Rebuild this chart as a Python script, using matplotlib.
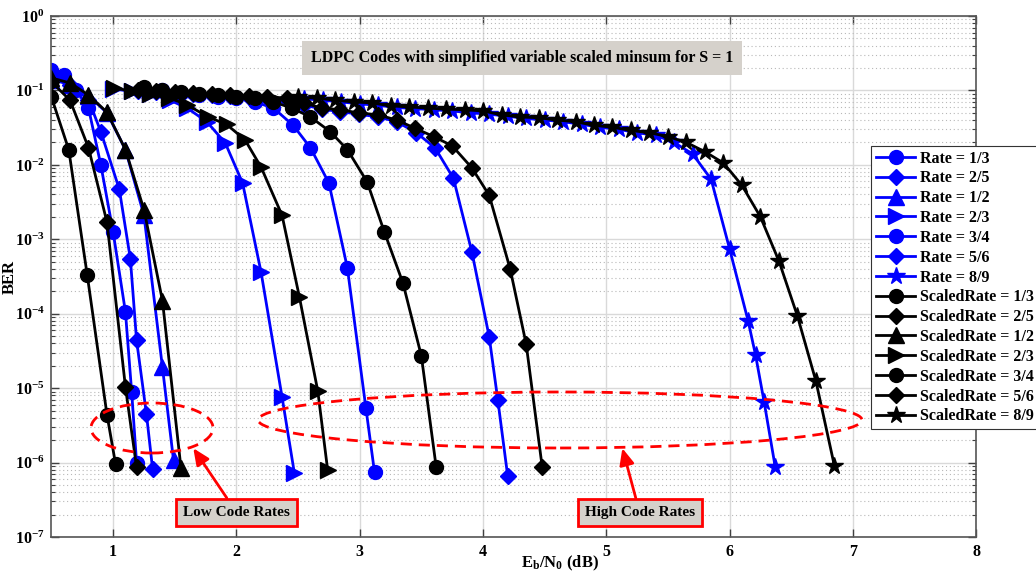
import math
import matplotlib
matplotlib.use("Agg")
import matplotlib.pyplot as plt
from matplotlib.patches import Ellipse
from matplotlib.ticker import LogLocator, FixedLocator, FuncFormatter, NullFormatter

plt.rcParams['font.family'] = ['Liberation Serif', 'DejaVu Serif']
plt.rcParams['font.weight'] = 'bold'
plt.rcParams['mathtext.fontset'] = 'custom'
plt.rcParams['mathtext.rm'] = 'Liberation Serif:bold'
plt.rcParams['mathtext.bf'] = 'Liberation Serif:bold'
plt.rcParams['mathtext.it'] = 'Liberation Serif:bold:italic'

# ---- BER curves: standard min-sum ("Rate") ----
r13_x = [0.5, 0.6, 0.7, 0.8, 0.9, 1.0, 1.1, 1.15, 1.19]
r13_y = [0.19, 0.16, 0.1, 0.058, 0.01, 1.25e-3, 1.05e-4, 9e-6, 1e-6]

r25_x = [0.5, 0.65, 0.8, 0.9, 1.05, 1.14, 1.19, 1.27, 1.32]
r25_y = [0.15, 0.12, 0.075, 0.028, 4.7e-3, 5.4e-4, 4.4e-5, 4.5e-6, 8.2e-7]

r12_x = [0.5, 0.65, 0.8, 0.95, 1.1, 1.25, 1.4, 1.49]
r12_y = [0.14, 0.12, 0.085, 0.05, 0.016, 2.1e-3, 1.9e-5, 1.07e-6]

r23_x = [1.0, 1.15, 1.3, 1.46, 1.6, 1.76, 1.91, 2.05, 2.2, 2.37, 2.47]
r23_y = [0.105, 0.097, 0.09, 0.074, 0.058, 0.038, 0.0196, 5.7e-3, 3.6e-4, 7.6e-6, 7.2e-7]

r34_x = [1.25, 1.4, 1.55, 1.7, 1.85, 2.0, 2.15, 2.3, 2.46, 2.6, 2.75, 2.9, 3.05, 3.12]
r34_y = [0.105, 0.1, 0.093, 0.088, 0.082, 0.078, 0.07, 0.058, 0.034, 0.017,
         5.7e-3, 4.1e-4, 5.4e-6, 7.4e-7]

r56_x = [1.2, 1.35, 1.5, 1.65, 1.8, 1.95, 2.1, 2.25, 2.41, 2.55, 2.69, 2.84, 2.99,
         3.15, 3.3, 3.46, 3.61, 3.76, 3.91, 4.05, 4.12, 4.2]
r56_y = [0.098, 0.095, 0.092, 0.09, 0.087, 0.084, 0.081, 0.078, 0.074, 0.064, 0.056,
         0.052, 0.048, 0.044, 0.038, 0.027, 0.017, 6.6e-3, 6.7e-4, 4.9e-5, 6.9e-6, 6.6e-7]

r89_x = [2.55, 2.7, 2.85, 3.0, 3.15, 3.3, 3.45, 3.6, 3.75, 3.9, 4.05, 4.2, 4.35, 4.5,
         4.65, 4.8, 4.95, 5.1, 5.25, 5.4, 5.55, 5.7, 5.85, 6.0, 6.15, 6.21, 6.28, 6.37]
r89_y = [0.077, 0.074, 0.07, 0.066, 0.063, 0.059, 0.057, 0.055, 0.053, 0.05, 0.048,
         0.045, 0.042, 0.04, 0.038, 0.035, 0.032, 0.03, 0.027, 0.025, 0.02, 0.014,
         6.4e-3, 7.4e-4, 8e-5, 2.8e-5, 6.5e-6, 8.7e-7]

# ---- BER curves: simplified variable scaled min-sum ("ScaledRate") ----
s13_x = [0.5, 0.64, 0.79, 0.95, 1.02]
s13_y = [0.081, 0.016, 3.3e-4, 4.4e-6, 9.5e-7]

s25_x = [0.5, 0.65, 0.8, 0.95, 1.1, 1.19]
s25_y = [0.13, 0.074, 0.017, 1.7e-3, 1.03e-5, 8.7e-7]

s12_x = [0.5, 0.65, 0.8, 0.95, 1.1, 1.25, 1.4, 1.55]
s12_y = [0.147, 0.126, 0.087, 0.051, 0.016, 2.5e-3, 1.5e-4, 8.5e-7]

s23_x = [1.01, 1.15, 1.3, 1.45, 1.6, 1.77, 1.92, 2.07, 2.2, 2.37, 2.51, 2.66, 2.74]
s23_y = [0.108, 0.098, 0.09, 0.08, 0.064, 0.044, 0.035, 0.0216, 9.3e-3, 2.1e-3,
         1.7e-4, 9.1e-6, 7.9e-7]

s34_x = [1.25, 1.4, 1.55, 1.7, 1.85, 2.0, 2.15, 2.3, 2.45, 2.6, 2.76, 2.9, 3.06,
         3.2, 3.35, 3.5, 3.62]
s34_y = [0.11, 0.1, 0.095, 0.09, 0.086, 0.082, 0.078, 0.07, 0.058, 0.044, 0.028,
         0.016, 5.9e-3, 1.25e-3, 2.6e-4, 2.7e-5, 8.7e-7]

s56_x = [1.2, 1.35, 1.5, 1.65, 1.8, 1.95, 2.1, 2.25, 2.41, 2.55, 2.69, 2.84, 2.99,
         3.15, 3.3, 3.45, 3.6, 3.75, 3.91, 4.05, 4.22, 4.35, 4.48]
s56_y = [0.1, 0.097, 0.095, 0.092, 0.09, 0.087, 0.085, 0.082, 0.079, 0.068, 0.058,
         0.055, 0.05, 0.047, 0.04, 0.031, 0.024, 0.018, 9.1e-3, 3.9e-3, 4e-4,
         3.9e-5, 8.7e-7]

s89_x = [2.5, 2.65, 2.8, 2.95, 3.1, 3.25, 3.4, 3.55, 3.7, 3.85, 4.0, 4.15, 4.3, 4.45,
         4.6, 4.75, 4.9, 5.05, 5.2, 5.35, 5.5, 5.65, 5.8, 5.95, 6.1, 6.25, 6.4,
         6.55, 6.7, 6.85]
s89_y = [0.081, 0.079, 0.074, 0.07, 0.068, 0.062, 0.06, 0.058, 0.056, 0.055, 0.053,
         0.047, 0.044, 0.043, 0.04, 0.038, 0.034, 0.032, 0.029, 0.027, 0.024, 0.02,
         0.015, 0.0106, 5.3e-3, 2e-3, 5.1e-4, 9.3e-5, 1.24e-5, 9e-7]

rate_names = ['1/3', '2/5', '1/2', '2/3', '3/4', '5/6', '8/9']
markers = ['o', 'D', '^', '>', 'o', 'D', '*']
msizes = [10, 8, 11, 11, 10, 8, 13]
plain = [(r13_x, r13_y), (r25_x, r25_y), (r12_x, r12_y), (r23_x, r23_y),
         (r34_x, r34_y), (r56_x, r56_y), (r89_x, r89_y)]
scaled = [(s13_x, s13_y), (s25_x, s25_y), (s12_x, s12_y), (s23_x, s23_y),
          (s34_x, s34_y), (s56_x, s56_y), (s89_x, s89_y)]

x_ticks = [1, 2, 3, 4, 5, 6, 7, 8]
y_decades = [-7, -6, -5, -4, -3, -2, -1, 0]

fig = plt.figure(figsize=(10.36, 5.76), dpi=100)
ax = fig.add_axes([0.0497, 0.0677, 0.8926, 0.9045])

for (xs, ys), name, mk, ms in zip(plain, rate_names, markers, msizes):
    ax.semilogy(xs, ys, color=(0, 0, 1), lw=2, marker=mk, ms=ms,
                label=f'Rate = {name}')
for (xs, ys), name, mk, ms in zip(scaled, rate_names, markers, msizes):
    ax.semilogy(xs, ys, color='black', lw=2, marker=mk, ms=ms,
                label=f'ScaledRate = {name}')

ax.set_xlim(0.5, 8)
ax.set_ylim(1e-7, 1)
ax.xaxis.set_major_locator(FixedLocator(x_ticks))
ax.yaxis.set_major_locator(FixedLocator([10.0 ** d for d in y_decades]))
ax.yaxis.set_minor_locator(FixedLocator(
    [k * 10.0 ** d for d in y_decades[:-1] for k in range(2, 10)]))
ax.yaxis.set_minor_formatter(NullFormatter())
ax.yaxis.set_major_formatter(FuncFormatter(
    lambda v, p: r'$\mathbf{10^{%d}}$' % round(math.log10(v))))

ax.grid(True, which='major', color='#d9d9d9', lw=1.0, ls='-')
ax.grid(True, which='minor', axis='y', color='#b8b8b8', lw=0.8, ls=(0, (1, 2.5)))
ax.tick_params(which='both', direction='in', top=True, right=True,
               colors='#404040', labelcolor='black', labelsize=11.5)
ax.tick_params(which='major', length=6, width=1)
ax.tick_params(which='minor', length=3, width=0.8)
ax.tick_params(axis='y', which='major', pad=5)
ax.tick_params(axis='x', which='major', pad=5)
for lab in ax.get_xticklabels():
    lab.set_fontweight('bold')
for sp in ax.spines.values():
    sp.set_color('#555555')
    sp.set_linewidth(1.2)

ax.set_ylabel('BER', fontsize=12, fontweight='bold')
ax.yaxis.set_label_coords(-0.036, 0.5)
ax.set_xlabel(r'E$_\mathbf{b}$/N$_\mathbf{0}$ (dB)', fontsize=12, fontweight='bold')
ax.xaxis.set_label_coords(0.55, -0.033)

ax.text(0.509, 0.919, 'LDPC Codes with simplified variable scaled minsum for S = 1',
        transform=ax.transAxes, ha='center', va='center', fontsize=11.5,
        fontweight='bold',
        bbox=dict(boxstyle='square,pad=0.55', facecolor='#d5d1cb', edgecolor='none'))

ax.add_patch(Ellipse((0.1087, 0.2092), 0.132, 0.096, transform=ax.transAxes,
                     fill=False, edgecolor='red', lw=2, ls=(0, (4, 2.5)), zorder=5))
ax.add_patch(Ellipse((0.550, 0.2246), 0.653, 0.1075, transform=ax.transAxes,
                     fill=False, edgecolor='red', lw=2, ls=(0, (4, 2.5)), zorder=5))

box = dict(boxstyle='square,pad=0.45', facecolor='#d5d1cb', edgecolor='red', lw=2)
arrow = dict(arrowstyle='-|>,head_length=0.9,head_width=0.4', color='red', lw=2,
             shrinkA=0, shrinkB=0)
ax.annotate('Low Code Rates', xy=(1.65, 1.56e-6), xytext=(2.0, 2.15e-7),
            ha='center', va='center', fontsize=11, fontweight='bold',
            bbox=box, arrowprops=arrow, zorder=6)
ax.annotate('High Code Rates', xy=(5.13, 1.56e-6), xytext=(5.27, 2.15e-7),
            ha='center', va='center', fontsize=11, fontweight='bold',
            bbox=box, arrowprops=arrow, zorder=6)

leg = fig.legend(loc='upper left', bbox_to_anchor=(0.8405, 0.747),
                 bbox_transform=fig.transFigure,
                 prop={'weight': 'bold', 'size': 11.5}, handlelength=2.5,
                 handletextpad=0.3, labelspacing=0.24, borderpad=0.3,
                 borderaxespad=0, fancybox=False, framealpha=1)
leg.get_frame().set_edgecolor('#333333')
leg.get_frame().set_linewidth(0.8)

fig.savefig('out.png', dpi=100)
